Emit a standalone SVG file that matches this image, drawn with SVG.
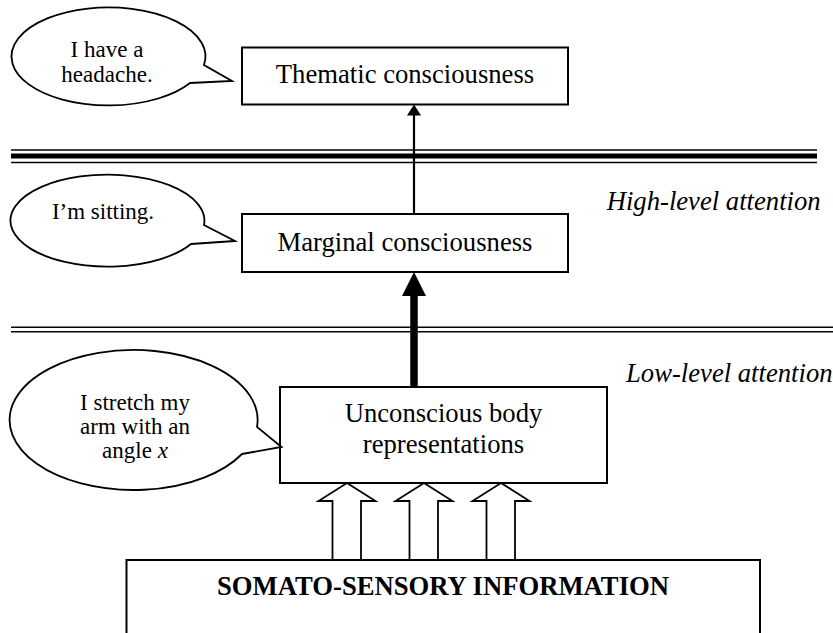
<svg xmlns="http://www.w3.org/2000/svg" width="833" height="633" viewBox="0 0 833 633">
<style>
text { font-family: "Liberation Serif", "Times New Roman", serif; fill: #000; }
.box { fill: #fff; stroke: #000; stroke-width: 2; }
.bub { fill: #fff; stroke: #000; stroke-width: 1.8; stroke-linejoin: miter; }
.main { font-size: 26.67px; text-anchor: middle; }
.bt { font-size: 23px; text-anchor: middle; }
.lbl { font-size: 26.67px; font-style: italic; }
.sep { stroke: #000; stroke-width: 1.5; fill: none; }
.hollow { fill: #fff; stroke: #000; stroke-width: 1.8; stroke-linejoin: miter; }
.head { fill: #000; stroke: none; }
</style>
<rect width="833" height="633" fill="#fff"/>

<g id="separators">
  <line class="sep" x1="11" y1="150" x2="817" y2="150"/>
  <rect x="11" y="153.5" width="806" height="5" fill="#000"/>
  <line class="sep" x1="11" y1="162.5" x2="817" y2="162.5"/>
  <line class="sep" x1="11" y1="327.3" x2="833" y2="327.3"/>
  <line class="sep" x1="11" y1="331.7" x2="833" y2="331.7"/>
</g>

<g id="labels">
  <text class="lbl" x="606.7" y="210">High-level attention</text>
  <text class="lbl" x="626" y="382">Low-level attention</text>
</g>

<g id="connectors">
  <line x1="414" y1="214" x2="414" y2="114" stroke="#000" stroke-width="2.2"/>
  <polygon class="head" points="414,104.5 421,115.5 407,115.5"/>
  <line x1="414" y1="387" x2="414" y2="294" stroke="#000" stroke-width="7.5"/>
  <polygon class="head" points="414,272 426,296 402,296"/>
  <polygon class="hollow" points="347,483 375.5,501 361,501 361,560 332.5,560 332.5,501 318.5,501"/>
  <polygon class="hollow" points="424,483 452.5,501 438,501 438,560 409.5,560 409.5,501 395.5,501"/>
  <polygon class="hollow" points="501,483 529.5,501 515,501 515,560 486.5,560 486.5,501 472.5,501"/>
</g>

<g id="thematic">
  <rect class="box" x="242" y="47.5" width="326" height="57"/>
  <text class="main" x="405" y="83">Thematic consciousness</text>
</g>

<g id="marginal">
  <rect class="box" x="242" y="214" width="326" height="58"/>
  <text class="main" x="405" y="250.5">Marginal consciousness</text>
</g>

<g id="unconscious">
  <rect class="box" x="280" y="387" width="327" height="96"/>
  <text class="main" x="443.5" y="422">Unconscious body</text>
  <text class="main" x="443.5" y="453">representations</text>
</g>

<g id="somato">
  <path class="box" d="M126.5,640 L126.5,560 L760,560 L760,640"/>
  <text class="main" x="443" y="595" font-weight="bold">SOMATO-SENSORY INFORMATION</text>
</g>

<g id="bubble-headache">
  <path class="bub" d="M190,83 L232,81 L204,65 A97,49 0 1 0 190,83 Z"/>
  <text class="bt" x="107" y="57">I have a</text>
  <text class="bt" x="107" y="82">headache.</text>
</g>

<g id="bubble-sitting">
  <path class="bub" d="M191,244 L235,241 L204,225 A97,46 0 1 0 191,244 Z"/>
  <text class="bt" x="103" y="219">I’m sitting.</text>
</g>

<g id="bubble-stretch">
  <path class="bub" d="M242,454 L281.5,447 L257,427 A124,70 0 1 0 242,454 Z"/>
  <text class="bt" x="135" y="410">I stretch my</text>
  <text class="bt" x="135" y="434">arm with an</text>
  <text class="bt" x="135" y="458">angle <tspan font-style="italic">x</tspan></text>
</g>
</svg>
